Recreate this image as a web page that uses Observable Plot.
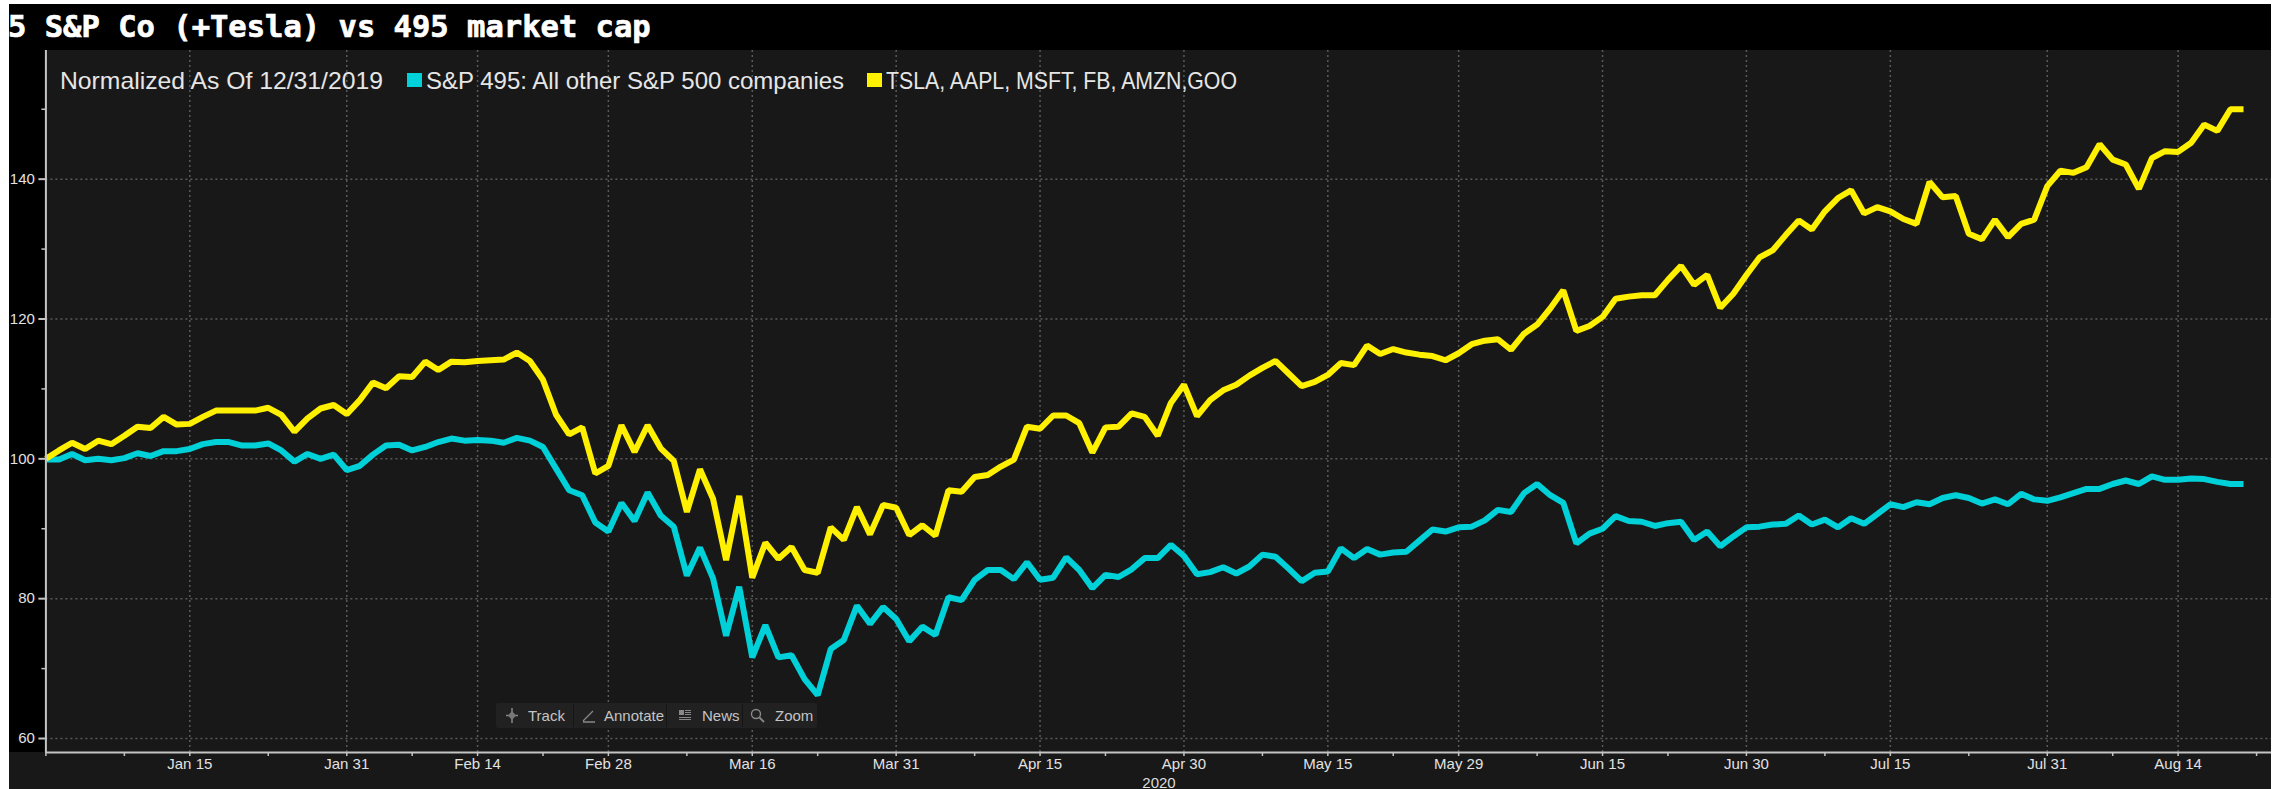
<!DOCTYPE html>
<html>
<head>
<meta charset="utf-8">
<script src="https://cdn.jsdelivr.net/npm/d3@7"></script>
<script src="https://cdn.jsdelivr.net/npm/@observablehq/plot@0.6"></script>
<style>
html,body{margin:0;padding:0;background:#fff;width:2282px;height:789px;overflow:hidden}
#stage{position:relative;width:2282px;height:789px;font-family:"Liberation Sans",Arial,sans-serif}
.abs{position:absolute;white-space:nowrap}
#chart{position:absolute;left:0;top:0}
#chart svg{background:transparent;display:block}
.tool{color:#c4c4c4;font-size:15px;line-height:25px;top:0}
.sep{position:absolute;top:1px;width:1px;height:23px;background:#151515}
.lg{color:#e6e6e6;font-size:24px;line-height:28px;top:67px;transform-origin:left center}
</style>
</head>
<body>
<div id="stage">
  <div class="abs" style="left:9px;top:4px;width:2262px;height:785px;background:#181818"></div>
  <div class="abs" style="left:9px;top:4px;width:2262px;height:46px;background:#000"></div>
  <div class="abs" style="left:9px;top:50px;width:36px;height:702px;background:#000"></div>
  <div id="chart"></div>
  <div class="abs" id="title" style="left:8px;top:8px;color:#fff;font:bold 30.5px/38px 'DejaVu Sans Mono',monospace;-webkit-text-stroke:0.7px #fff"></div>
  <div class="abs lg" id="lgNote" style="left:60px;transform:scaleX(1.03)"></div>
  <div class="abs" style="left:407px;top:73px;width:15px;height:14px;background:#00d0d8"></div>
  <div class="abs lg" id="lgA" style="left:426px"></div>
  <div class="abs" style="left:867px;top:73px;width:15px;height:14px;background:#fff000"></div>
  <div class="abs lg" id="lgB" style="left:886px;transform:scaleX(0.886)"></div>
  <div class="abs" id="year" style="left:1139px;top:775px;width:40px;text-align:center;color:#ddd;font-size:15px;line-height:15px"></div>
  <div class="abs" id="toolbar" style="left:496px;top:703px;width:321px;height:25px;background:#212121;border-radius:2px;overflow:hidden">
    <svg class="abs" style="left:9px;top:5px" width="14" height="15" viewBox="0 0 14 15"><path d="M7 0V15M1 7.5H13" stroke="#888" stroke-width="1.5"/><path d="M7 3L11 7.5L7 12L3 7.5Z" fill="#777"/></svg>
    <span class="abs tool" style="left:32px">Track</span>
    <div class="sep" style="left:77px"></div>
    <svg class="abs" style="left:86px;top:6px" width="14" height="14" viewBox="0 0 14 14"><path d="M1 12L11 2M1 13H13" stroke="#888" stroke-width="1.3"/></svg>
    <span class="abs tool" style="left:108px">Annotate</span>
    <div class="sep" style="left:170px"></div>
    <svg class="abs" style="left:183px;top:6px" width="12" height="13" viewBox="0 0 12 13"><path d="M0 1H5V6H0ZM6 1H12V2H6ZM6 3H12V4H6ZM6 5H12V6H6ZM0 8H12V9H0ZM0 10H12V11H0Z" fill="#888"/></svg>
    <span class="abs tool" style="left:206px">News</span>
    <div class="sep" style="left:246px"></div>
    <svg class="abs" style="left:254px;top:5px" width="15" height="15" viewBox="0 0 15 15"><circle cx="6" cy="6" r="4.5" fill="none" stroke="#888" stroke-width="1.4"/><path d="M9.5 9.5L14 14" stroke="#888" stroke-width="1.8"/></svg>
    <span class="abs tool" style="left:279px">Zoom</span>
  </div>
</div>
<script>
const titleText = "5 S&P Co (+Tesla) vs 495 market cap";
const noteText = "Normalized As Of 12/31/2019";
const nameA = "S&P 495: All other S&P 500 companies";
const nameB = "TSLA, AAPL, MSFT, FB, AMZN,GOO";
const yearText = "2020";

// Values per weekday, starting from 12/31/2019 (index 0)
const top6 = [
 100,101.2,102.3,101.4,102.6,102.1,103.3,104.6,104.4,106,
 104.9,105,106,106.9,106.9,106.9,106.9,107.3,106.3,103.9,
 105.8,107.2,107.7,106.4,108.4,110.9,110.1,111.8,111.7,113.9,
 112.7,113.9,113.8,114,114.1,114.2,115.2,114,111.3,106.3,
 103.5,104.5,97.9,99,104.8,101,104.8,101.5,99.7,92.4,
 98.5,94.3,85.5,94.7,83,88,85.7,87.4,84.1,83.7,
 90.2,88.4,93.1,89.2,93.4,93,89.1,90.5,89,95.5,
 95.3,97.4,97.7,98.9,99.9,104.6,104.3,106.2,106.2,105.1,
 100.9,104.5,104.6,106.5,106,103.3,108,110.6,106.1,108.4,
 109.8,110.6,111.9,113,114,112.2,110.4,111,112,113.7,
 113.4,116.2,115,115.7,115.2,114.9,114.7,114.1,115.1,116.4,
 116.9,117.1,115.6,117.9,119.2,121.5,124.1,118.3,119,120.3,
 122.9,123.2,123.4,123.4,125.6,127.6,124.9,126.3,121.6,123.6,
 126.3,128.8,129.8,132,134.1,132.8,135.4,137.3,138.4,135.1,
 136,135.4,134.3,133.6,139.6,137.4,137.6,132.2,131.4,134.2,
 131.7,133.6,134.2,139,141.2,140.9,141.7,145,142.8,142.1,
 138.6,143,144,143.9,145.2,147.8,146.9,150,150
];
const sp495 = [
 99.9,99.9,100.7,99.8,100,99.8,100.1,100.8,100.4,101.1,
 101.1,101.4,102.1,102.4,102.4,101.9,101.9,102.2,101.2,99.6,
 100.7,100,100.6,98.4,99,100.6,101.9,102,101.2,101.7,
 102.4,102.9,102.6,102.7,102.6,102.3,103,102.6,101.7,98.6,
 95.5,94.8,90.9,89.6,93.7,91.1,95.2,91.9,90.3,83.3,
 87.3,82.9,74.7,81.7,71.6,76.2,71.6,71.9,68.5,66.2,
 72.8,74.1,79,76.4,78.8,77.1,73.9,76,74.8,80.2,
 79.8,82.7,84.1,84.1,82.8,85.2,82.7,83,85.9,84.1,
 81.5,83.4,83.1,84.2,85.8,85.8,87.7,86.1,83.5,83.8,
 84.5,83.6,84.6,86.3,86,84.3,82.5,83.7,83.9,87.2,
 85.8,87.1,86.3,86.6,86.7,88.3,89.9,89.6,90.2,90.3,
 91.2,92.7,92.4,95.1,96.4,94.8,93.7,87.9,89.3,90,
 91.8,91.1,91,90.4,90.8,91,88.4,89.6,87.5,88.9,
 90.2,90.3,90.6,90.7,91.9,90.6,91.3,90.2,91.5,90.7,
 92.1,93.5,93.1,93.8,93.5,94.4,94.8,94.4,93.6,94.2,
 93.5,95,94.2,94,94.5,95.1,95.7,95.7,96.4,96.9,
 96.4,97.5,97,97,97.2,97.1,96.7,96.4,96.4
];
const dateTicks = [11,23,33,43,54,65,76,87,98,108,119,130,141,153,163];
const dateLabels = ["Jan 15","Jan 31","Feb 14","Feb 28","Mar 16","Mar 31","Apr 15","Apr 30","May 15","May 29","Jun 15","Jun 30","Jul 15","Jul 31","Aug 14"];
const minorDateTicks = [0,6,17,28,38,49,59,71,81,93,103,114,124,136,147,158,169];
const yTicks = [60,80,100,120,140];
const yMinorTicks = [70,90,110,130,150];

const labelOf = new Map(dateTicks.map((t,i)=>[t,dateLabels[i]]));
const rowsA = sp495.map((v,i)=>({i,v}));
const rowsB = top6.map((v,i)=>({i,v}));
const axisColor = "#c4c4c4", gridColor = "#5a5a5a", textColor = "#e2e2e2";

document.getElementById("title").textContent = titleText;
document.getElementById("lgNote").textContent = noteText;
document.getElementById("lgA").textContent = nameA;
document.getElementById("lgB").textContent = nameB;
document.getElementById("year").textContent = yearText;

const chart = Plot.plot({
  width: 2282, height: 789,
  marginLeft: 45.4, marginRight: 11, marginTop: 50, marginBottom: 37,
  style: {background:"transparent", fontFamily:"'Liberation Sans',Arial,sans-serif", fontSize:"15px"},
  x: {type:"linear", domain:[0,170.14], axis:null},
  y: {type:"linear", domain:[58,158.4], axis:null},
  marks: [
    Plot.gridY(yTicks, {stroke:gridColor, strokeOpacity:1, strokeWidth:1.5, strokeDasharray:"2,3"}),
    Plot.gridX(dateTicks, {stroke:gridColor, strokeOpacity:1, strokeWidth:1.5, strokeDasharray:"2,3"}),
    Plot.line(rowsA, {x:"i", y:"v", stroke:"#00d0d8", strokeWidth:6, strokeLinejoin:"miter", strokeLinecap:"butt"}),
    Plot.line(rowsB, {x:"i", y:"v", stroke:"#fff000", strokeWidth:6, strokeLinejoin:"miter", strokeLinecap:"butt"}),
    Plot.ruleY([58], {stroke:axisColor, strokeWidth:2}),
    Plot.ruleX([0], {stroke:axisColor, strokeWidth:2}),
    Plot.axisX({ticks:dateTicks, tickFormat:d=>labelOf.get(d), tickSize:4, tickPadding:2, stroke:axisColor, strokeWidth:1.5, color:textColor, label:null, anchor:"bottom"}),
    Plot.axisX({ticks:minorDateTicks, tickFormat:()=>"", tickSize:4, stroke:axisColor, strokeWidth:1.5, label:null, anchor:"bottom"}),
    Plot.axisY({ticks:yTicks, tickSize:7, tickPadding:4, stroke:axisColor, strokeWidth:2, color:textColor, label:null, anchor:"left"}),
    Plot.axisY({ticks:yMinorTicks, tickFormat:()=>"", tickSize:4, stroke:axisColor, strokeWidth:1.5, label:null, anchor:"left"})
  ]
});
document.getElementById("chart").appendChild(chart);
</script>
</body>
</html>
